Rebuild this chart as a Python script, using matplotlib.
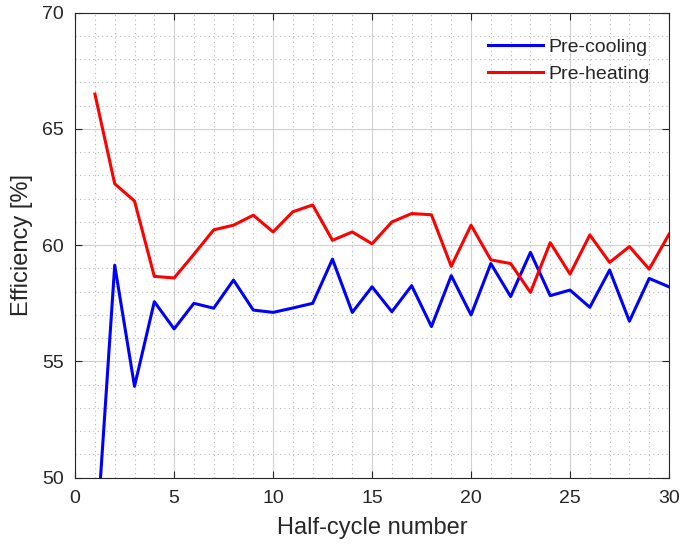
import numpy as np
import matplotlib
matplotlib.use("Agg")
import matplotlib.pyplot as plt
from matplotlib.ticker import MultipleLocator

# -----------------------------
# Efficiency per half-cycle
# -----------------------------

half_cycle = list(range(1, 31))

pre_cooling = [46.4, 59.14, 53.93, 57.57, 56.40, 57.50, 57.29, 58.50, 57.21, 57.11,
               57.30, 57.50, 59.40, 57.11, 58.21, 57.14, 58.26, 56.50, 58.69, 57.00,
               59.21, 57.79, 59.69, 57.83, 58.07, 57.33, 58.93, 56.73, 58.57, 58.21]

pre_heating = [66.50, 62.64, 61.90, 58.66, 58.59, 59.61, 60.66, 60.86, 61.29, 60.57,
               61.44, 61.73, 60.21, 60.57, 60.06, 61.00, 61.36, 61.31, 59.09, 60.86,
               59.37, 59.21, 57.97, 60.11, 58.76, 60.44, 59.26, 59.94, 58.97, 60.47]

plt.rcParams["font.family"] = ["Liberation Sans", "DejaVu Sans"]
text_color = "#262626"

fig = plt.figure(figsize=(6.83, 5.51), dpi=100)
ax = fig.add_axes([0.110, 0.133, 0.8695, 0.844])

ax.plot(half_cycle, pre_cooling, color="#0000ff", linewidth=2.2, label="Pre-cooling")
ax.plot(half_cycle, pre_heating, color="#ff0000", linewidth=2.2, label="Pre-heating")

ax.set_xlim(0, 30)
ax.set_ylim(50, 70)
ax.xaxis.set_major_locator(MultipleLocator(5))
ax.yaxis.set_major_locator(MultipleLocator(5))
ax.xaxis.set_minor_locator(MultipleLocator(1))
ax.yaxis.set_minor_locator(MultipleLocator(1))

# MATLAB-like grid: solid major, dotted minor
ax.grid(True, which="major", color="#d0d0d0", linewidth=0.8, linestyle="-")
ax.grid(True, which="minor", color="#b8b8b8", linewidth=0.8, linestyle=(0, (1, 3)))
ax.set_axisbelow(True)

ax.tick_params(which="both", direction="in", top=True, right=True,
               labelsize=14, colors=text_color)
ax.tick_params(which="minor", length=0)
ax.tick_params(which="major", length=5)
ax.tick_params(axis="x", which="major", pad=9)
ax.tick_params(axis="y", which="major", pad=8)
for s in ax.spines.values():
    s.set_color(text_color)
    s.set_linewidth(0.8)

ax.set_xlabel("Half-cycle number", fontsize=17, color=text_color, labelpad=7)
ax.set_ylabel("Efficiency [%]", fontsize=17, color=text_color, labelpad=7)

leg = ax.legend(loc="upper left", bbox_to_anchor=(0.682, 0.962), frameon=False,
                fontsize=14, handlelength=2.83, handletextpad=0.26,
                labelspacing=0.5, borderaxespad=0.0)
for t in leg.get_texts():
    t.set_color(text_color)

fig.savefig("out.png", dpi=100)
print("Saved: out.png")
